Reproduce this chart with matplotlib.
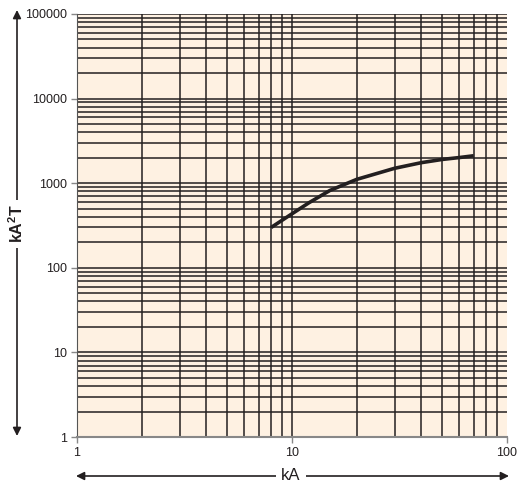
import matplotlib
matplotlib.use("Agg")
import matplotlib.pyplot as plt
from matplotlib.ticker import LogLocator, NullFormatter, FixedLocator

plt.rcParams['font.family'] = ['Liberation Sans', 'DejaVu Sans']

current_ka = [8, 10, 12, 15, 20, 25, 30, 40, 50, 60, 70]
energy_ka2t = [300, 435, 588, 820, 1110, 1310, 1500, 1750, 1910, 2010, 2110]

x_ticks = [1, 10, 100]
x_tick_labels = ["1", "10", "100"]
y_ticks = [1, 10, 100, 1000, 10000, 100000]
y_tick_labels = ["1", "10", "100", "1000", "10000", "100000"]

grid_color = "#231f20"
bg_color = "#fef1e2"

fig = plt.figure(figsize=(5.17, 4.84), dpi=100)
ax = fig.add_axes([77/517, 47/484, 430/517, 423/484])
ax.set_facecolor(bg_color)
ax.set_xscale("log")
ax.set_yscale("log")
ax.set_xlim(1, 100)
ax.set_ylim(1, 100000)

ax.xaxis.set_major_locator(FixedLocator(x_ticks))
ax.set_xticklabels(x_tick_labels)
ax.yaxis.set_major_locator(FixedLocator(y_ticks))
ax.set_yticklabels(y_tick_labels)
ax.xaxis.set_minor_locator(LogLocator(base=10, subs=range(2, 10)))
ax.yaxis.set_minor_locator(LogLocator(base=10, subs=range(2, 10)))
ax.xaxis.set_minor_formatter(NullFormatter())
ax.yaxis.set_minor_formatter(NullFormatter())

ax.grid(True, which="both", color=grid_color, linewidth=1.1)
ax.tick_params(which="minor", length=0)
ax.tick_params(which="major", length=4, width=1, color="#888888",
               labelsize=9, labelcolor="#231f20", pad=3)
# no vertical grid line at the right edge (x = 100)
ax.get_xgridlines()[-1].set_visible(False)

for s in ["top", "right"]:
    ax.spines[s].set_visible(False)
ax.spines["left"].set_color("#555555")
ax.spines["bottom"].set_color("#888888")
ax.spines["bottom"].set_linewidth(1.5)

ax.plot(current_ka, energy_ka2t, color="#231f20", linewidth=2.6,
        solid_capstyle="butt", zorder=5)

# Axis arrows
arrow_kw = dict(arrowstyle="-|>", color="#231f20", lw=1.2,
                mutation_scale=12, shrinkA=0, shrinkB=0)
yx = 17/517
ytop = 1 - 10/484
ybot = 1 - 436/484
ymid = 1 - 224/484
fig.add_artist(matplotlib.patches.FancyArrowPatch((yx, ymid), (yx, ytop),
               transform=fig.transFigure, **arrow_kw))
fig.add_artist(matplotlib.patches.FancyArrowPatch((yx, ymid), (yx, ybot),
               transform=fig.transFigure, **arrow_kw))
fig.text(yx, ymid, "kA$^\\mathregular{2}$T", rotation=90, ha="center", va="center",
         fontsize=11.5, fontweight="bold", color="#231f20",
         bbox=dict(facecolor="white", edgecolor="none", pad=3))

xy = 1 - 476/484
xl = 76/517
xr = 509/517
xmid = 291/517
fig.add_artist(matplotlib.patches.FancyArrowPatch((xmid, xy), (xl, xy),
               transform=fig.transFigure, **arrow_kw))
fig.add_artist(matplotlib.patches.FancyArrowPatch((xmid, xy), (xr, xy),
               transform=fig.transFigure, **arrow_kw))
fig.text(xmid, xy, "kA", ha="center", va="center", fontsize=12,
         color="#231f20",
         bbox=dict(facecolor="white", edgecolor="none", pad=4))

fig.savefig("out.png", dpi=100, facecolor="white")
